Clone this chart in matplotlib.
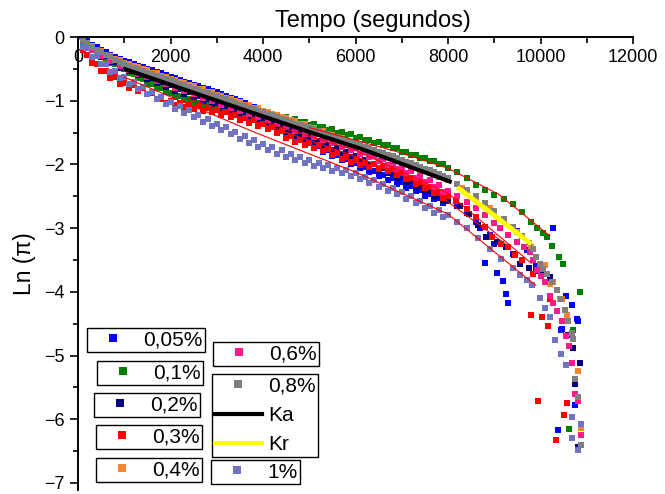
import matplotlib
matplotlib.use('Agg')
import matplotlib.pyplot as plt
from matplotlib.lines import Line2D

plt.rcParams['font.family'] = ['Liberation Sans', 'DejaVu Sans']

## time grids of the dense part of the runs (s)
t_band = [0, 200, 400, 600, 800, 1000, 1200, 1400, 1600, 1800, 2000, 2200, 2400, 2600,
          2800, 3000, 3200, 3400, 3600, 3800, 4000, 4200, 4400, 4600, 4800, 5000, 5200,
          5400, 5600, 5800, 6000, 6200, 6400, 6600, 6800, 7000, 7200, 7400, 7600, 7800, 8000]
t_band2 = [100, 300, 500, 700, 900, 1100, 1300, 1500, 1700, 1900, 2100, 2300, 2500, 2700,
           2900, 3100, 3300, 3500, 3700, 3900, 4100, 4300, 4500, 4700, 4900, 5100, 5300,
           5500, 5700, 5900, 6100, 6300, 6500, 6700, 6900, 7100, 7300, 7500, 7700, 7900]

## Ln(pi) in the dense part, one pair of lists per concentration
y005 = [0.00, -0.07, -0.16, -0.24, -0.31, -0.37, -0.42, -0.47, -0.52, -0.57, -0.62, -0.67, -0.72, -0.77,
        -0.82, -0.87, -0.92, -0.97, -1.03, -1.10, -1.19, -1.28, -1.37, -1.46, -1.55, -1.63, -1.71,
        -1.78, -1.85, -1.92, -1.98, -2.04, -2.10, -2.16, -2.22, -2.28, -2.34, -2.40, -2.46, -2.52, -2.58]
y005b = [-0.04, -0.12, -0.20, -0.28, -0.35, -0.40, -0.45, -0.50, -0.55, -0.60, -0.65, -0.70, -0.75, -0.80,
         -0.85, -0.90, -0.95, -1.00, -1.07, -1.15, -1.30, -1.39, -1.48, -1.56, -1.64, -1.72, -1.80,
         -1.87, -1.93, -2.00, -2.06, -2.12, -2.18, -2.24, -2.30, -2.37, -2.42, -2.49, -2.54, -2.61]
y01 = [0.00, -0.12, -0.23, -0.33, -0.42, -0.50, -0.58, -0.66, -0.73, -0.80, -0.88, -0.93, -0.98, -1.03,
       -1.07, -1.10, -1.13, -1.15, -1.18, -1.20, -1.22, -1.24, -1.26, -1.30, -1.34, -1.38, -1.42,
       -1.46, -1.50, -1.54, -1.58, -1.62, -1.66, -1.70, -1.75, -1.80, -1.85, -1.90, -1.95, -2.00, -2.05]
y01b = [-0.09, -0.21, -0.31, -0.41, -0.49, -0.57, -0.65, -0.73, -0.80, -0.87, -0.94, -0.99, -1.04, -1.08,
        -1.12, -1.15, -1.17, -1.20, -1.22, -1.24, -1.20, -1.22, -1.25, -1.29, -1.33, -1.37, -1.41,
        -1.45, -1.49, -1.53, -1.57, -1.61, -1.65, -1.70, -1.75, -1.80, -1.85, -1.90, -1.95, -2.00]
y02 = [0.00, -0.10, -0.21, -0.30, -0.39, -0.46, -0.52, -0.58, -0.64, -0.70, -0.76, -0.81, -0.86, -0.92,
       -0.97, -1.03, -1.08, -1.13, -1.19, -1.24, -1.30, -1.35, -1.41, -1.46, -1.52, -1.57, -1.63,
       -1.69, -1.75, -1.81, -1.87, -1.93, -1.99, -2.06, -2.12, -2.19, -2.26, -2.33, -2.41, -2.48, -2.56]
y02b = [-0.10, -0.21, -0.31, -0.40, -0.48, -0.54, -0.60, -0.66, -0.72, -0.78, -0.84, -0.89, -0.94, -1.00,
        -1.05, -1.11, -1.16, -1.21, -1.27, -1.32, -1.38, -1.43, -1.49, -1.54, -1.60, -1.65, -1.71,
        -1.77, -1.83, -1.89, -1.95, -2.01, -2.08, -2.14, -2.21, -2.28, -2.35, -2.42, -2.50, -2.57]
y03 = [0.00, -0.28, -0.43, -0.53, -0.63, -0.72, -0.76, -0.80, -0.88, -0.97, -1.00, -1.03, -1.06, -1.09,
       -1.11, -1.14, -1.18, -1.23, -1.27, -1.31, -1.36, -1.42, -1.48, -1.56, -1.62, -1.66, -1.70,
       -1.76, -1.82, -1.88, -1.93, -1.97, -2.00, -2.03, -2.07, -2.13, -2.21, -2.28, -2.35, -2.43, -2.50]
y03b = [-0.20, -0.41, -0.54, -0.64, -0.73, -0.80, -0.84, -0.90, -0.98, -1.04, -1.07, -1.10, -1.13, -1.16,
        -1.18, -1.22, -1.26, -1.31, -1.35, -1.39, -1.45, -1.51, -1.58, -1.65, -1.70, -1.74, -1.79,
        -1.85, -1.91, -1.96, -2.01, -2.04, -2.07, -2.11, -2.16, -2.23, -2.30, -2.37, -2.45, -2.52]
y04 = [0.00, -0.10, -0.20, -0.28, -0.35, -0.41, -0.46, -0.51, -0.56, -0.61, -0.66, -0.71, -0.76, -0.81,
       -0.86, -0.91, -0.96, -1.01, -1.06, -1.11, -1.16, -1.21, -1.26, -1.31, -1.36, -1.42, -1.47,
       -1.53, -1.58, -1.64, -1.69, -1.75, -1.80, -1.86, -1.91, -1.97, -2.02, -2.08, -2.13, -2.19, -2.25]
y04b = [-0.05, -0.14, -0.22, -0.30, -0.36, -0.42, -0.47, -0.52, -0.57, -0.62, -0.67, -0.72, -0.77, -0.82,
        -0.87, -0.92, -0.97, -1.02, -1.07, -1.12, -1.17, -1.22, -1.27, -1.32, -1.37, -1.43, -1.48,
        -1.54, -1.59, -1.65, -1.70, -1.76, -1.81, -1.87, -1.92, -1.98, -2.03, -2.09, -2.14, -2.20]
y06 = [0.00, -0.10, -0.20, -0.28, -0.36, -0.43, -0.49, -0.54, -0.60, -0.65, -0.71, -0.76, -0.81, -0.86,
       -0.92, -0.97, -1.02, -1.07, -1.12, -1.17, -1.22, -1.27, -1.32, -1.38, -1.43, -1.48, -1.53,
       -1.58, -1.64, -1.69, -1.75, -1.80, -1.86, -1.92, -1.98, -2.04, -2.11, -2.18, -2.25, -2.33, -2.41]
y06b = [-0.11, -0.21, -0.30, -0.38, -0.46, -0.52, -0.58, -0.63, -0.69, -0.74, -0.80, -0.85, -0.90, -0.95,
        -1.01, -1.06, -1.11, -1.16, -1.21, -1.26, -1.31, -1.36, -1.41, -1.47, -1.52, -1.57, -1.62,
        -1.67, -1.73, -1.78, -1.84, -1.89, -1.95, -2.01, -2.07, -2.14, -2.21, -2.28, -2.35, -2.43]
y08 = [0.00, -0.10, -0.20, -0.28, -0.36, -0.43, -0.48, -0.53, -0.58, -0.63, -0.68, -0.73, -0.78, -0.83,
       -0.88, -0.93, -0.98, -1.03, -1.08, -1.13, -1.18, -1.23, -1.28, -1.33, -1.38, -1.42, -1.47,
       -1.52, -1.57, -1.62, -1.67, -1.72, -1.77, -1.82, -1.87, -1.93, -1.98, -2.04, -2.09, -2.15, -2.21]
y08b = [-0.05, -0.15, -0.24, -0.32, -0.40, -0.46, -0.51, -0.56, -0.61, -0.66, -0.71, -0.76, -0.81, -0.86,
        -0.91, -0.96, -1.01, -1.06, -1.11, -1.16, -1.21, -1.26, -1.31, -1.36, -1.40, -1.45, -1.50,
        -1.55, -1.60, -1.65, -1.70, -1.75, -1.80, -1.85, -1.90, -1.96, -2.01, -2.07, -2.12, -2.18]
y1 = [0.00, -0.17, -0.30, -0.42, -0.53, -0.63, -0.71, -0.79, -0.87, -0.94, -1.02, -1.09, -1.15, -1.22,
      -1.29, -1.36, -1.42, -1.49, -1.56, -1.62, -1.68, -1.73, -1.78, -1.83, -1.88, -1.93, -1.97,
      -2.01, -2.05, -2.09, -2.13, -2.19, -2.25, -2.31, -2.37, -2.43, -2.50, -2.57, -2.65, -2.72, -2.80]
y1b = [-0.16, -0.31, -0.43, -0.55, -0.65, -0.74, -0.82, -0.90, -0.98, -1.05, -1.13, -1.19, -1.26, -1.33,
       -1.40, -1.46, -1.53, -1.60, -1.66, -1.72, -1.78, -1.83, -1.88, -1.93, -1.98, -2.02, -2.06,
       -2.10, -2.14, -2.18, -2.23, -2.29, -2.35, -2.41, -2.47, -2.54, -2.61, -2.68, -2.76, -2.83]

## tails (t > 8000 s), scattered points
t005_tail = [8200, 8400, 8600, 8700, 8810, 8900, 9000, 9050, 9180, 9245, 9290, 9400, 9500, 9700, 9900,
             10200, 10260, 10380, 10440, 10460, 10560, 10680, 10740, 10790, 10810]
y005_tail = [-2.66, -2.76, -2.90, -3.00, -3.55, -3.10, -3.25, -3.70, -3.83, -4.04, -4.17, -3.40, -3.05,
             -3.35, -3.60, -3.80, -2.99, -6.17, -4.60, -4.59, -4.07, -4.20, -5.77, -4.43, -4.45]
t01_tail = [8200, 8400, 8600, 8800, 9000, 9200, 9400, 9600, 9800, 9917, 10050, 10130, 10250, 10400,
            10490, 10620, 10700, 10850]
y01_tail = [-2.12, -2.22, -2.32, -2.40, -2.48, -2.55, -2.62, -2.75, -2.90, -2.99, -3.08, -3.14, -3.28,
            -3.45, -3.56, -6.15, -4.60, -4.00]
t02_tail = [8250, 8460, 8650, 8830, 9050, 9260, 9420, 9550, 9590, 9750, 9900, 10050, 10200, 10590,
            10700, 10740, 10800, 10850]
y02_tail = [-2.65, -2.78, -2.95, -3.14, -3.22, -3.30, -3.42, -3.56, -3.50, -3.62, -3.68, -3.72, -3.76,
            -4.67, -4.88, -5.44, -6.44, -5.12]
t03_tail = [8180, 8400, 8610, 8800, 8960, 9150, 9300, 9450, 9600, 9790, 9830, 9940, 10025, 10160, 10200,
            10330, 10500, 10570]
y03_tail = [-2.57, -2.70, -2.83, -2.98, -3.14, -3.25, -3.30, -3.42, -3.50, -4.37, -3.72, -5.72, -4.39,
            -4.54, -4.12, -6.33, -5.94, -5.75]
t04_tail = [8300, 8600, 8900, 9200, 9500, 9800, 10090, 10200, 10260, 10420, 10460, 10570, 10810, 10870]
y04_tail = [-2.37, -2.52, -2.68, -2.86, -3.06, -3.30, -3.58, -3.87, -3.84, -4.12, -4.12, -4.36, -5.24, -6.14]
t06_tail = [8200, 8400, 8600, 8800, 9000, 9115, 9300, 9500, 9650, 9765, 9840, 9917, 10000, 10090, 10200,
            10280, 10350, 10460, 10560, 10620, 10680, 10740, 10810, 10870]
y06_tail = [-2.50, -2.59, -2.69, -2.80, -2.92, -2.99, -3.10, -3.22, -3.30, -3.37, -3.50, -3.65, -3.75,
            -3.84, -4.07, -4.18, -4.30, -4.46, -4.70, -4.85, -5.12, -5.60, -5.72, -6.25]
t08_tail = [8200, 8400, 8600, 8800, 9000, 9200, 9400, 9600, 9750, 9830, 9900, 9980, 10060, 10130, 10250,
            10350, 10450, 10525, 10600, 10680, 10700, 10740, 10810, 10870]
y08_tail = [-2.30, -2.40, -2.50, -2.61, -2.73, -2.85, -2.98, -3.12, -3.24, -3.32, -3.45, -3.56, -3.64,
            -3.72, -3.85, -3.97, -4.12, -4.28, -4.45, -4.65, -4.74, -5.37, -5.65, -6.41]
t1_tail = [8200, 8400, 8650, 8900, 9150, 9400, 9550, 9700, 9810, 9980, 10100, 10200, 10310, 10440, 10550,
           10680, 10680, 10800, 10870]
y1_tail = [-2.90, -3.00, -3.15, -3.32, -3.48, -3.62, -3.73, -3.82, -3.90, -4.10, -4.25, -4.39, -4.75,
           -4.98, -5.15, -5.97, -6.30, -6.48, -6.07]

## model lines
t_ka = [1000, 3000, 5000, 6100, 8080]
y_ka = [-0.50, -1.00, -1.49, -1.75, -2.28]
t_kr = [8200, 9000, 9800]
y_kr = [-2.36, -2.80, -3.25]

## thin red fit curves
fits = [
    ([1000, 3800, 6000, 8000, 9900], [-0.63, -1.49, -2.12, -2.78, -3.90]),
    ([5000, 6900, 8000, 9100, 10200], [-1.42, -1.80, -2.06, -2.47, -3.12]),
    ([2400, 4200, 6100, 7500, 9300], [-0.97, -1.42, -1.90, -2.32, -3.28]),
    ([4000, 6000, 8000, 9800], [-1.33, -1.78, -2.45, -3.55]),
]

series = [
    ('0,05%', '#0000FF', y005, y005b, t005_tail, y005_tail),
    ('0,1%', '#008000', y01, y01b, t01_tail, y01_tail),
    ('0,2%', '#000080', y02, y02b, t02_tail, y02_tail),
    ('0,3%', '#FF0000', y03, y03b, t03_tail, y03_tail),
    ('0,4%', '#F5862F', y04, y04b, t04_tail, y04_tail),
    ('0,6%', '#FF1A8C', y06, y06b, t06_tail, y06_tail),
    ('0,8%', '#808080', y08, y08b, t08_tail, y08_tail),
]
c_1 = '#7272C2'

W, H = 665, 494
fig = plt.figure(figsize=(W / 100, H / 100), dpi=100)
ax = fig.add_axes([78 / W, 1 - 490 / H, (633 - 78) / W, (490 - 37) / H])

ms = 5.0
for lab, c, ya, yb, tt, yt in series:
    ax.plot(t_band + t_band2 + tt, ya + yb + yt, 's', ms=ms, color=c, mew=0, ls='none')
ax.plot(t_ka, y_ka, color='black', lw=3, solid_capstyle='butt')
ax.plot(t_kr, y_kr, color='#FFFF00', lw=3.5, solid_capstyle='butt')
ax.plot(t_band + t_band2 + t1_tail, y1 + y1b + y1_tail, 's', ms=ms, color=c_1, mew=0, ls='none')
for fx, fy in fits:
    ax.plot(fx, fy, color='red', lw=0.8)

ax.set_xlim(0, 12000)
ax.set_ylim(-7.11, 0)
ax.set_xticks(range(0, 12001, 2000))
ax.set_xticks(range(1000, 12000, 2000), minor=True)
ax.set_yticks(range(-7, 1))
ax.set_yticks([-6.5, -5.5, -4.5, -3.5, -2.5, -1.5, -0.5], minor=True)

for s in ['right', 'bottom']:
    ax.spines[s].set_visible(False)
for s in ['top', 'left']:
    ax.spines[s].set_linewidth(1.4)

ax.tick_params(axis='x', which='both', top=True, bottom=False, labeltop=True, labelbottom=False,
               direction='in', pad=-9, labelsize=13, width=1.2)
ax.tick_params(axis='x', which='major', length=5)
ax.tick_params(axis='x', which='minor', length=4)
for lbl in ax.get_xticklabels():
    lbl.set_va('top')
ax.tick_params(axis='y', which='both', direction='out', labelsize=13, width=1.2)
ax.tick_params(axis='y', which='major', length=6)
ax.tick_params(axis='y', which='minor', length=3.5)

ax.set_ylabel('Ln (π)', fontsize=16.5, labelpad=6)
fig.text(373 / W, 1 - 27 / H, 'Tempo (segundos)', ha='center', va='baseline', fontsize=17)

## legend boxes (upper-left corners in pixels)
def sq(c):
    return Line2D([], [], marker='s', ls='none', color=c, mew=0, ms=5.3)

boxes = [
    ((87, 328), [sq('#0000FF')], ['0,05%']),
    ((97, 361), [sq('#008000')], ['0,1%']),
    ((94, 393), [sq('#000080')], ['0,2%']),
    ((96, 425), [sq('#FF0000')], ['0,3%']),
    ((96, 458), [sq('#F5862F')], ['0,4%']),
    ((213, 342), [sq('#FF1A8C')], ['0,6%']),
    ((212, 374), [sq('#808080'), Line2D([], [], color='black', lw=3),
                  Line2D([], [], color='#FFFF00', lw=3)], ['0,8%', 'Ka', 'Kr']),
    ((211, 460), [sq(c_1)], ['1%']),
]
legs = []
for (px, py), hs, labs in boxes:
    leg = ax.legend(hs, labs, loc='upper left', bbox_to_anchor=(px / W, 1 - py / H),
                    bbox_transform=fig.transFigure, frameon=True, fancybox=False,
                    edgecolor='black', framealpha=1, borderpad=0.12, handlelength=2.26,
                    handletextpad=0.31, borderaxespad=0, fontsize=15, labelspacing=0.5)
    leg.get_frame().set_linewidth(1.0)
    legs.append(leg)
for leg in legs[:-1]:
    ax.add_artist(leg)

fig.savefig('out.png', dpi=100)
